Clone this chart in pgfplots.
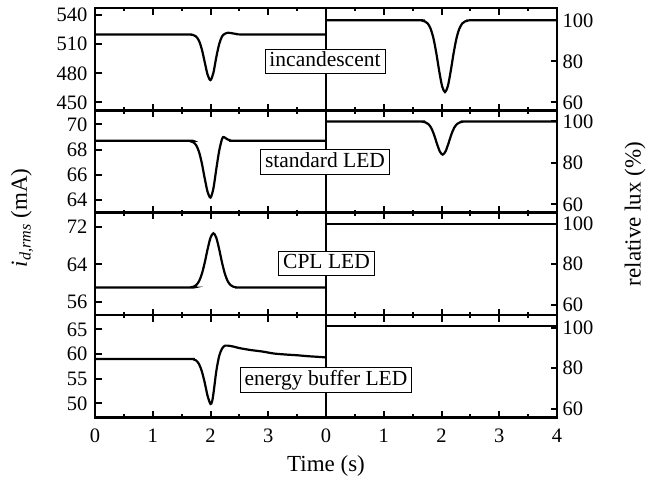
\documentclass[border=0pt]{standalone}
\usepackage{pgfplots}
\pgfplotsset{compat=1.18}
\usepackage{fontspec}
\setmainfont{Liberation Serif}
\pgfplotsset{
  panel/.style={
    scale only axis, width=231pt, height=102.25pt, anchor=south west,
    xmin=0, xmax=4,
    axis line style={line width=2.5pt},
    tick align=inside,
    major tick length=6.5pt, minor tick length=3pt,
    every tick/.style={line width=2pt, black},
    minor x tick num=1,
    tick label style={font=\fontsize{20.5}{24}\selectfont},
    xticklabel style={yshift=-8pt},
    /pgf/number format/assume math mode=true,
    xtick={0,1,2,3,4}, xticklabels={},
  },
  lpanel/.style={panel, ytick pos=left, yticklabel style={xshift=-4pt}},
  rpanel/.style={panel, ytick pos=right, yticklabel pos=right, yticklabel style={xshift=2pt}, ymin=55, ymax=106, ytick={60,80,100}},
  dat/.style={black, line width=2.2pt, smooth, no markers},
}
\tikzset{lab/.style={draw=black, line width=0.9pt, fill=white, inner xsep=4.5pt, inner ysep=2.5pt, font=\fontsize{21.5}{25}\selectfont, text height=15pt, text depth=4.5pt}}
\begin{document}
\begin{tikzpicture}[x=1pt,y=1pt]
\path[use as bounding box] (0pt,0pt) rectangle (655pt,485pt);
% Row 1
\begin{axis}[lpanel, at={(95pt,374.5pt)}, ymin=441.7, ymax=547, ytick={450,480,510,540}]
\addplot[dat] coordinates {(0,520) (1.5,520) (1.65,519.9) (1.7,519.5) (1.75,517.9) (1.8,513.6) (1.85,504.7) (1.9,491.5) (1.95,478.5) (2.0,473) (2.05,480.5) (2.1,496.5) (2.15,510) (2.2,518) (2.25,520.8) (2.3,521.8) (2.35,521.5) (2.45,520.5) (2.6,520) (4,520)};
\end{axis}
\begin{axis}[rpanel, at={(326pt,374.5pt)}, ymin=56, ymax=105.9]
\addplot[dat] coordinates {(0,100) (1.6,100) (1.66,99.9) (1.71,99.5) (1.76,98.5) (1.81,96) (1.86,91.3) (1.91,84) (1.96,75.3) (2.01,67.9) (2.06,65) (2.11,67.9) (2.16,75.3) (2.21,84) (2.26,91.3) (2.31,96) (2.36,98.5) (2.41,99.5) (2.46,99.9) (2.55,100) (4,100)};
\end{axis}
% Row 2
\begin{axis}[lpanel, at={(95pt,272.25pt)}, ymin=63, ymax=71.1, ytick={64,66,68,70}]
\addplot[dat] coordinates {(0,68.7) (1.6,68.7) (1.65,68.67) (1.7,68.59) (1.75,68.36) (1.8,67.84) (1.85,66.92) (1.9,65.72) (1.95,64.65) (2.0,64.2) (2.05,64.92) (2.1,66.45) (2.15,67.9) (2.2,68.85) (2.23,69.0) (2.28,68.85) (2.35,68.72) (2.45,68.7) (4,68.7)};
\end{axis}
\begin{axis}[rpanel, at={(326pt,272.25pt)}, ymin=56, ymax=105.3]
\addplot[dat] coordinates {(0,100) (1.6,100) (1.67,99.9) (1.72,99.6) (1.77,98.8) (1.82,97) (1.87,93.7) (1.92,89.4) (1.97,85.6) (2.02,84) (2.07,85.6) (2.12,89.4) (2.17,93.7) (2.22,97) (2.27,98.8) (2.32,99.6) (2.37,99.9) (2.45,100) (4,100)};
\end{axis}
% Row 3
\begin{axis}[lpanel, at={(95pt,170pt)}, ymin=53.1, ymax=75.1, ytick={56,64,72}]
\addplot[dat] coordinates {(0,59) (1.6,59) (1.65,59.04) (1.7,59.16) (1.75,59.51) (1.8,60.33) (1.85,61.93) (1.9,64.36) (1.95,67.27) (2.0,69.73) (2.05,70.7) (2.1,69.73) (2.15,67.27) (2.2,64.36) (2.25,61.93) (2.3,60.33) (2.35,59.51) (2.4,59.16) (2.45,59.04) (2.55,59) (4,59)};
\end{axis}
\begin{axis}[rpanel, at={(326pt,170pt)}, ymin=55, ymax=105.4]
\addplot[dat] coordinates {(0,100) (4,100)};
\end{axis}
% Row 4
\begin{axis}[lpanel, at={(95pt,67.75pt)}, ymin=47.2, ymax=67.9, ytick={50,55,60,65}, xticklabels={0,1,2,3,{}}]
\addplot[dat] coordinates {(0,59) (1.6,59) (1.7,58.95) (1.75,58.7) (1.8,58.0) (1.85,56.5) (1.9,54.2) (1.95,51.5) (2.0,49.9) (2.03,50.5) (2.06,52.8) (2.1,56.5) (2.15,59.6) (2.2,61.1) (2.25,61.7) (2.3,61.7) (2.4,61.5) (2.5,61.2) (2.7,60.8) (2.9,60.5) (3.1,60.1) (3.3,59.9) (3.5,59.75) (3.7,59.55) (3.9,59.4) (4,59.3)};
\end{axis}
\begin{axis}[rpanel, at={(326pt,67.75pt)}, ymin=55.7, ymax=106.3, xticklabels={0,1,2,3,4}]
\addplot[dat] coordinates {(0,100.8) (4,100.8)};
\end{axis}
% Labels
\node[lab] at (325pt,423.5pt) {incandescent};
\node[lab] at (325pt,323pt) {standard LED};
\node[lab] at (326.5pt,221.5pt) {CPL LED};
\node[lab] at (326pt,105pt) {energy buffer LED};
\node[rotate=90, font=\fontsize{23}{27}\selectfont] at (22pt,267pt) {\textit{i}\textsubscript{\textit{d,rms}} (mA)};
\node[rotate=90, font=\fontsize{23}{27}\selectfont] at (635pt,271pt) {relative lux (\%)};
\node[font=\fontsize{23}{27}\selectfont] at (326pt,19pt) {Time (s)};
\end{tikzpicture}
\end{document}
